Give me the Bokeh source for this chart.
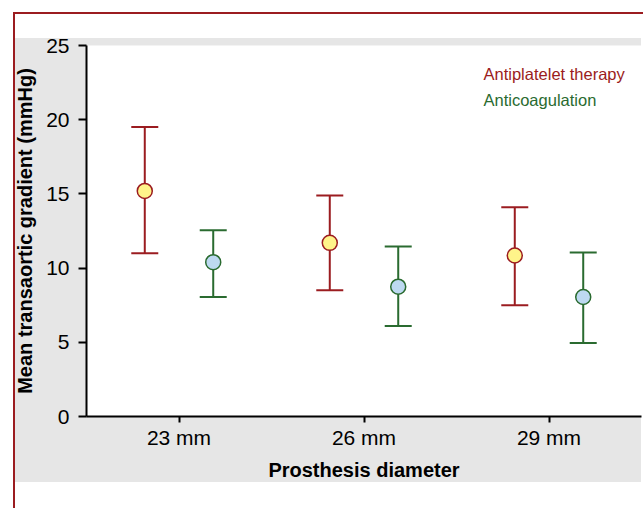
from bokeh.plotting import figure
from bokeh.models import (ColumnDataSource, FactorRange, Whisker, TeeHead, Label,
                          FixedTicker, InlineStyleSheet)
from bokeh.transform import dodge
from bokeh.embed import file_html
from bokeh.resources import INLINE

# ---- data ----
diameters = ["23 mm", "26 mm", "29 mm"]
antiplatelet_mean = [15.2, 11.7, 10.85]
antiplatelet_upper = [19.5, 14.9, 14.1]
antiplatelet_lower = [11.0, 8.5, 7.5]
anticoag_mean = [10.4, 8.75, 8.05]
anticoag_upper = [12.55, 11.45, 11.05]
anticoag_lower = [8.05, 6.1, 4.95]
y_ticks = [0, 5, 10, 15, 20, 25]
series_names = ["Antiplatelet therapy", "Anticoagulation"]

RED = "#9b1c20"
GREEN = "#2a6b30"
YELLOW = "#fff48a"
BLUE = "#bdd9f1"
GRAY = "#e6e6e6"

src_ap = ColumnDataSource(dict(x=diameters, mean=antiplatelet_mean,
                               upper=antiplatelet_upper, lower=antiplatelet_lower))
src_ac = ColumnDataSource(dict(x=diameters, mean=anticoag_mean,
                               upper=anticoag_upper, lower=anticoag_lower))

css = (":host { background: "
       f"linear-gradient({RED},{RED}) 13px 12px / 2px calc(100% - 12px) no-repeat, "
       f"linear-gradient({RED},{RED}) 13px 12px / calc(100% - 13px) 2px no-repeat, "
       f"linear-gradient({GRAY},{GRAY}) 15px 38px / 626px 444px no-repeat, "
       "#ffffff; }")

p = figure(x_range=FactorRange(*diameters, range_padding=0), y_range=(0, 25),
           width=643, height=508, output_backend="svg", toolbar_location=None,
           min_border_left=86, min_border_right=2, min_border_top=45, min_border_bottom=92,
           background_fill_color="white", border_fill_color=None,
           outline_line_color=None,
           stylesheets=[InlineStyleSheet(css=css)])

p.grid.visible = False

OFF = 0.185
for src, off, lc, fc in [(src_ap, -OFF, RED, YELLOW), (src_ac, OFF, GREEN, BLUE)]:
    xs = dodge("x", off, range=p.x_range)
    w = Whisker(base=xs, upper="upper", lower="lower", source=src, dimension="height",
                line_color=lc, line_width=2, level="underlay",
                upper_head=TeeHead(size=27, line_color=lc, line_width=2),
                lower_head=TeeHead(size=27, line_color=lc, line_width=2))
    p.add_layout(w)
    p.scatter(x=xs, y="mean", source=src, size=15, fill_color=fc,
              line_color=lc, line_width=1.5)

# axes
for ax in (p.xaxis[0], p.yaxis[0]):
    ax.axis_line_width = 2
    ax.axis_line_color = "black"
    ax.major_tick_line_width = 2
    ax.major_tick_line_color = "black"
    ax.major_tick_in = 0
    ax.minor_tick_line_color = None
    ax.major_label_text_font = "Liberation Sans"
    ax.major_label_text_font_size = "21px"
    ax.major_label_text_color = "black"
    ax.axis_label_text_font = "Liberation Sans"
    ax.axis_label_text_font_style = "bold"
    ax.axis_label_text_font_size = "20px"
    ax.axis_label_text_color = "black"

p.xaxis.major_tick_out = 6
p.xaxis.major_label_standoff = 3
p.xaxis.axis_label = "Prosthesis diameter"
p.xaxis.axis_label_standoff = 7

p.yaxis.ticker = FixedTicker(ticks=y_ticks)
p.yaxis.major_tick_out = 8
p.yaxis.major_label_standoff = 9
p.yaxis.axis_label = "Mean transaortic gradient (mmHg)"
p.yaxis.axis_label_standoff = 7

# legend texts
p.add_layout(Label(x=2.146, y=23.1, text=series_names[0], text_color=RED,
                   text_font="Liberation Sans", text_font_size="16.5px",
                   text_baseline="alphabetic"))
p.add_layout(Label(x=2.146, y=21.35, text=series_names[1], text_color=GREEN,
                   text_font="Liberation Sans", text_font_size="16.5px",
                   text_baseline="alphabetic"))

open("out.html", "w").write(file_html(p, INLINE))
